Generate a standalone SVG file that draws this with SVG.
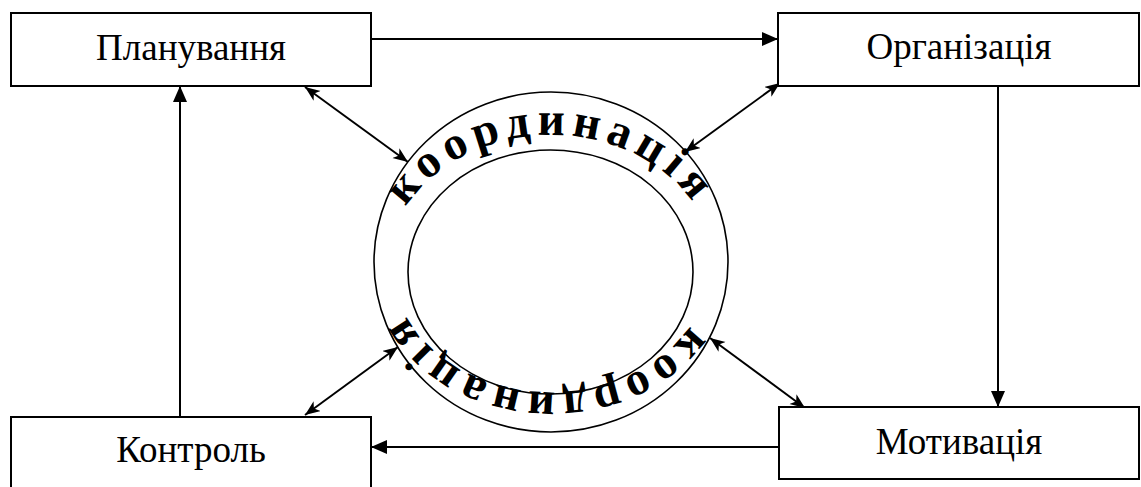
<svg xmlns="http://www.w3.org/2000/svg" width="1141" height="487" viewBox="0 0 1141 487">
  <style>
    .box { fill: #ffffff; stroke: #000000; stroke-width: 2; }
    .label { font-family: "Liberation Serif", "Times New Roman", serif; font-size: 37px; fill: #000000; text-anchor: middle; }
    .conn { fill: none; stroke: #000000; stroke-width: 2; }
    .ring { fill: none; stroke: #000000; stroke-width: 1.6; }
    .ringtext { font-family: "Liberation Serif", "Times New Roman", serif; font-size: 47px; font-weight: bold; fill: #000000; letter-spacing: 6.5px; }
  </style>
  <defs>
    <marker id="tri" markerUnits="userSpaceOnUse" markerWidth="18" markerHeight="16" refX="16" refY="7" orient="auto">
      <path d="M0,0 L16,7 L0,14 z" fill="#000000"/>
    </marker>
    <marker id="stealth" markerUnits="userSpaceOnUse" markerWidth="18" markerHeight="14" refX="15" refY="6" orient="auto-start-reverse">
      <path d="M0,0 L15,6 L0,12 L4,6 z" fill="#000000"/>
    </marker>
    <path id="topArc" d="M386,272 A165,137 0 0 1 716,272"/>
    <path id="botArc" d="M709,265 A158,127 0 0 1 393,265"/>
  </defs>

  <g id="connectors">
    <path class="conn" d="M371,39 H778" marker-end="url(#tri)"/>
    <path class="conn" d="M998,86 V407" marker-end="url(#tri)"/>
    <path class="conn" d="M779,447 H371" marker-end="url(#tri)"/>
    <path class="conn" d="M180,417 V86" marker-end="url(#tri)"/>
    <path class="conn" d="M305,87 L408,162" marker-start="url(#stealth)" marker-end="url(#stealth)"/>
    <path class="conn" d="M780,83 L685,152" marker-start="url(#stealth)" marker-end="url(#stealth)"/>
    <path class="conn" d="M305,415 L398,347" marker-start="url(#stealth)" marker-end="url(#stealth)"/>
    <path class="conn" d="M805,408 L710,338" marker-start="url(#stealth)" marker-end="url(#stealth)"/>
  </g>

  <g id="coordination">
    <ellipse class="ring" cx="551" cy="262" rx="177" ry="170"/>
    <ellipse class="ring" cx="550.5" cy="272" rx="142.5" ry="122"/>
    <text class="ringtext"><textPath href="#topArc" startOffset="50%" text-anchor="middle">координація</textPath></text>
    <text class="ringtext"><textPath href="#botArc" startOffset="52%" text-anchor="middle">координація</textPath></text>
  </g>

  <g id="planning">
    <rect class="box" x="11" y="13" width="360" height="73"/>
    <text class="label" x="191" y="60">Планування</text>
  </g>
  <g id="organization">
    <rect class="box" x="778" y="13" width="361" height="73"/>
    <text class="label" x="959" y="59">Організація</text>
  </g>
  <g id="motivation">
    <rect class="box" x="779" y="407" width="360" height="72"/>
    <text class="label" x="959" y="454">Мотивація</text>
  </g>
  <g id="control">
    <rect class="box" x="11" y="417" width="360" height="80"/>
    <text class="label" x="191" y="462">Контроль</text>
  </g>
</svg>
